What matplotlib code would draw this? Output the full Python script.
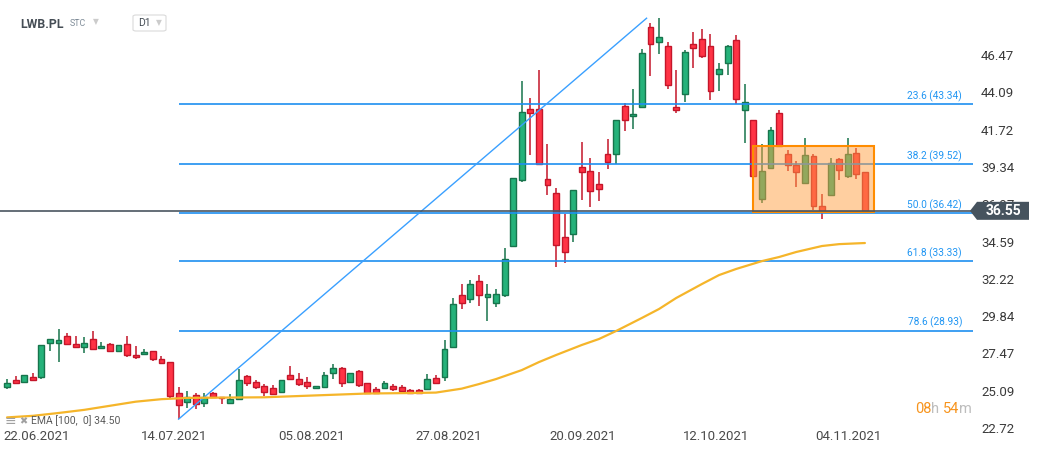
import numpy as np
import matplotlib
matplotlib.use("Agg")
import matplotlib.pyplot as plt
from matplotlib.patches import Rectangle, Polygon, FancyBboxPatch

plt.rcParams['font.family'] = ['Roboto', 'DejaVu Sans']

# daily candles, 16.06.2021 .. 05.11.2021
opens = [25.31, 25.76, 25.63, 25.95, 25.99, 28.15, 28.11, 28.56, 28.05, 27.86,
         28.37, 27.80, 28.07, 27.60, 28.05, 27.37, 27.41, 27.62, 27.11, 26.90,
         24.93, 24.38, 24.82, 24.29, 24.93, 24.68, 24.29, 24.55, 26.02, 25.67,
         25.38, 25.25, 25.03, 26.10, 25.84, 25.63, 25.25, 25.35, 26.20, 26.54,
         25.63, 26.33, 25.59, 25.20, 25.25, 25.40, 25.33, 25.14, 25.14, 25.18,
         25.88, 25.99, 27.86, 31.17, 30.95, 32.06, 31.08, 30.66, 31.17, 34.29,
         38.49, 43.01, 43.01, 38.56, 37.66, 34.86, 35.05, 39.32, 39.06, 38.24,
         40.15, 40.15, 43.20, 42.57, 43.14, 48.23, 47.28, 47.02, 43.14, 43.97,
         47.15, 47.47, 47.02, 45.24, 45.94, 47.41, 42.95, 42.31, 37.28, 39.25,
         42.76, 40.15, 39.47, 38.30, 40.02, 36.84, 37.54, 39.83, 38.75, 40.21,
         39.00]
highs = [25.82, 26.02, 26.10, 26.22, 28.00, 28.40, 29.00, 28.75, 28.58, 28.50,
         28.88, 28.18, 28.11, 28.00, 28.58, 27.96, 27.75, 27.62, 27.30, 26.90,
         25.31, 25.06, 24.97, 24.93, 25.00, 24.70, 24.87, 26.48, 26.10, 25.80,
         25.50, 25.46, 25.80, 26.67, 26.22, 25.97, 25.40, 26.31, 26.80, 26.60,
         26.25, 26.40, 25.60, 25.35, 25.70, 25.52, 25.46, 25.22, 25.20, 26.16,
         26.08, 28.32, 31.00, 31.89, 32.14, 32.46, 31.89, 31.57, 34.18, 38.65,
         44.81, 43.71, 45.52, 40.80, 38.00, 36.35, 37.90, 40.93, 39.91, 39.02,
         41.12, 42.35, 43.41, 44.30, 46.83, 48.49, 48.81, 47.28, 45.52, 46.79,
         47.93, 48.13, 47.81, 45.94, 47.11, 47.74, 44.62, 42.31, 40.80, 41.87,
         42.97, 40.42, 39.72, 41.19, 40.15, 37.62, 39.91, 39.90, 41.19, 40.55,
         39.00]
lows = [25.22, 25.55, 25.60, 25.78, 25.86, 27.64, 26.94, 28.05, 27.86, 27.52,
        27.73, 27.78, 27.55, 27.60, 27.22, 27.11, 27.40, 26.97, 26.80, 24.61,
        23.29, 23.97, 23.93, 24.04, 24.65, 24.23, 24.29, 24.55, 25.40, 25.20,
        24.78, 24.82, 25.00, 25.80, 25.42, 25.20, 25.20, 25.30, 25.82, 25.35,
        25.60, 25.35, 24.90, 24.90, 25.20, 25.10, 25.05, 24.95, 24.90, 25.15,
        25.55, 25.74, 27.80, 30.31, 30.70, 30.51, 29.55, 30.45, 31.04, 34.25,
        38.40, 40.10, 39.50, 37.58, 33.00, 33.25, 34.58, 37.26, 36.81, 37.19,
        39.23, 39.53, 41.65, 41.78, 43.10, 45.15, 46.51, 44.32, 42.80, 43.50,
        45.66, 46.26, 43.62, 44.16, 45.22, 43.37, 40.89, 38.70, 37.07, 39.20,
        40.60, 39.10, 38.08, 38.30, 36.62, 36.05, 37.50, 38.53, 38.66, 38.60,
        36.50]
closes = [25.57, 25.57, 26.08, 25.80, 27.99, 28.37, 28.31, 28.05, 27.86, 28.11,
          27.73, 27.92, 27.60, 27.99, 27.37, 27.22, 27.56, 27.13, 26.86, 24.78,
          24.17, 24.68, 24.23, 24.71, 24.71, 24.63, 24.59, 25.78, 25.57, 25.31,
          25.03, 24.87, 25.78, 25.86, 25.50, 25.42, 25.38, 26.10, 26.54, 25.61,
          26.20, 25.48, 24.93, 24.93, 25.61, 25.18, 25.10, 24.97, 24.93, 25.84,
          25.61, 27.75, 30.60, 30.66, 31.87, 31.21, 31.23, 31.23, 33.46, 38.62,
          42.82, 42.76, 39.53, 38.17, 34.35, 33.91, 37.86, 39.04, 37.79, 37.96,
          39.68, 42.31, 42.31, 42.69, 46.58, 47.15, 47.60, 44.54, 42.95, 46.64,
          46.90, 46.39, 44.16, 45.56, 47.02, 43.65, 43.46, 38.75, 39.06, 41.68,
          40.68, 39.45, 39.00, 40.08, 36.88, 36.56, 39.58, 39.17, 40.15, 38.87,
          36.55]

# EMA(100) read at some candles
ema_idx = [0, 3, 6, 9, 12, 15, 18, 21, 25, 30, 36, 42, 47, 50, 53, 55, 57, 60, 62, 64,
           67, 69, 71, 74, 76, 78, 81, 83, 85, 88, 90, 92, 95, 97, 100]
ema_val = [23.40, 23.50, 23.68, 23.88, 24.14, 24.40, 24.56, 24.64, 24.66, 24.68,
           24.80, 24.92, 24.95, 24.98, 25.23, 25.52, 25.84, 26.41, 26.92, 27.37,
           28.01, 28.39, 28.90, 29.73, 30.30, 31.00, 31.89, 32.46, 32.85, 33.35,
           33.61, 33.93, 34.31, 34.43, 34.50]

fib_ratio = ["23.6", "38.2", "50.0", "61.8", "78.6"]
fib_price = [43.34, 39.52, 36.42, 33.33, 28.93]
fib_start = 20

trend_from = (20, 23.29)
trend_to = (74.55, 48.81)

box_idx = (87, 101.1)
box_price = (36.46, 40.66)

last_price = 36.55
ema_last = 34.50

price_ticks = [22.72, 25.09, 27.47, 29.84, 32.22, 34.59, 36.97, 39.34, 41.72, 44.09, 46.47]
date_pos = [3.46, 19.46, 35.55, 51.5, 67.1, 82.6, 98.1]
date_labels = ["22.06.2021", "14.07.2021", "05.08.2021", "27.08.2021",
               "20.09.2021", "12.10.2021", "04.11.2021"]

W, H = 1041, 454
fig = plt.figure(figsize=(W / 100, H / 100), dpi=100)
ax = fig.add_axes([0, 0, 973 / W, 1])
ax.set_xlim(-0.82, 112.6)
ax.set_ylim(21.07, 49.97)
for s in ax.spines.values():
    s.set_visible(False)

o = np.array(opens); h = np.array(highs); l = np.array(lows); c = np.array(closes)
x = np.arange(len(o))
up = c >= o
g_fill, g_edge = "#25b27a", "#17744c"
r_fill, r_edge = "#ff3345", "#c4162a"
fill = np.where(up, g_fill, r_fill)
edge = np.where(up, g_edge, r_edge)

ax.vlines(x, l, h, colors=edge, lw=1.1, zorder=2)
body_lo = np.minimum(o, c)
body_h = np.maximum(np.abs(c - o), 0.08)
ax.bar(x, body_h, bottom=body_lo, width=0.68, color=fill, edgecolor=edge, lw=1.0, zorder=3)

# fibonacci levels
xr = ax.get_xlim()[1]
for r, p in zip(fib_ratio, fib_price):
    ax.plot([fib_start, xr], [p, p], color="#1e8ff0", lw=1.2, zorder=4, solid_capstyle="butt")
    ax.text(962 / 973, p + 0.15, f"{r} ({p:.2f})", transform=ax.get_yaxis_transform(),
            ha="right", va="bottom", fontsize=7.3, color="#2196f3")

ax.plot([trend_from[0], trend_to[0]], [trend_from[1], trend_to[1]], color="#3aa0ff", lw=1.0, zorder=4)

# selection box
ax.add_patch(Rectangle((box_idx[0], box_price[0]), box_idx[1] - box_idx[0], box_price[1] - box_price[0],
                       facecolor="#ffa042", alpha=0.5, edgecolor="none", zorder=5))
ax.add_patch(Rectangle((box_idx[0], box_price[0]), box_idx[1] - box_idx[0], box_price[1] - box_price[0],
                       facecolor="none", edgecolor="#ff8c00", lw=1.5, zorder=5))

# EMA
ax.plot(ema_idx, ema_val, color="#f5b52a", lw=1.6, zorder=6, solid_capstyle="round",
        solid_joinstyle="round")

# last price line
ax.axhline(last_price, color="#4a5560", lw=1.2, zorder=6)

# right price scale
ax.yaxis.tick_right()
ax.set_yticks(price_ticks)
ax.set_yticklabels([f"{t:.2f}" for t in price_ticks])
ax.tick_params(axis="y", length=0, pad=5.8, labelsize=9.5, labelcolor="#3a3a3a")
ax.set_xticks([])

# dates
for p, t in zip(date_pos, date_labels):
    ax.text(p, 1 - 437 / H, t, transform=ax.get_xaxis_transform(), ha="center", va="center",
            fontsize=9.5, color="#4a4a4a")

# last price tag
yd = ax.transData.transform((0, last_price))[1] / H
hh = 9 / H
tag = Polygon([(970 / W, yd), (977 / W, yd + hh), (1029 / W, yd + hh), (1029 / W, yd - hh), (977 / W, yd - hh)],
              closed=True, transform=fig.transFigure, facecolor="#46535e", edgecolor="none", zorder=10)
fig.patches.append(tag)
fig.text(1003 / W, yd, f"{last_price:.2f}", ha="center", va="center", fontsize=10, fontweight="bold",
         color="white", zorder=11)

# EMA legend
fig.text(5 / W, 1 - 421 / H, "\u2261", fontsize=10, color="#a0a0a0", va="center", ha="left",
         family=["DejaVu Sans"])
fig.text(19 / W, 1 - 421 / H, "\u2716", fontsize=7, color="#a0a0a0", va="center", ha="left",
         family=["DejaVu Sans"])
fig.text(31 / W, 1 - 421 / H, f"EMA [100,  0] {ema_last:.2f}", fontsize=7.5, color="#5a5a5a",
         va="center", ha="left")

# countdown
t1 = fig.text(915 / W, 1 - 409 / H, "08", fontsize=10.5, color="#f7941d", va="center", ha="left")
t2 = fig.text(0, 0, "h ", fontsize=10.5, color="#bdbdbd", va="bottom", ha="left")
t3 = fig.text(0, 0, "54", fontsize=10.5, color="#f7941d", va="bottom", ha="left")
t4 = fig.text(0, 0, "m", fontsize=10.5, color="#bdbdbd", va="bottom", ha="left")
fig.canvas.draw()
prev = t1
for t in (t2, t3, t4):
    bb = prev.get_window_extent()
    t.set_position((bb.x1 / W, bb.y0 / H))
    fig.canvas.draw()
    prev = t

# header
fig.text(20 / W, 1 - 24 / H, "LWB.PL", fontsize=8.8, fontweight="bold", color="#454d55", va="center")
fig.text(70 / W, 1 - 24 / H, "STC", fontsize=6.4, color="#7f8c98", va="center")
fig.text(96 / W, 1 - 22 / H, "\u25bc", fontsize=5.5, color="#cccccc", va="center", ha="center",
         family=["DejaVu Sans"])
fig.patches.append(FancyBboxPatch((133 / W, 1 - 31 / H), 33 / W, 16 / H,
                                  boxstyle="round,pad=0,rounding_size=0.003",
                                  transform=fig.transFigure, facecolor="white",
                                  edgecolor="#dadada", lw=0.8))
fig.text(138 / W, 1 - 23 / H, "D1", fontsize=7.5, color="#454d55", va="center")
fig.text(159 / W, 1 - 23 / H, "\u25bc", fontsize=5.5, color="#cccccc", va="center", ha="center",
         family=["DejaVu Sans"])

fig.savefig("out.png", dpi=100)
